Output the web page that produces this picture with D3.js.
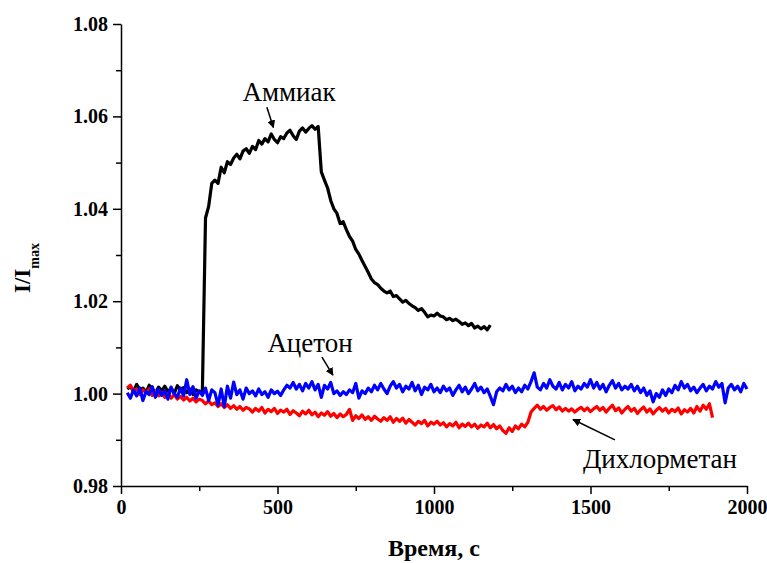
<!DOCTYPE html>
<html>
<head>
<meta charset="utf-8">
<script src="https://cdnjs.cloudflare.com/ajax/libs/d3/7.8.5/d3.min.js"></script>
<style>
  body { margin: 0; background: #fff; }
  svg { display: block; }
  .axis path, .axis line { stroke: #000; stroke-width: 1.5px; }
  .axis text { font-size: 20px; font-weight: bold; fill: #000; }
  .series { fill: none; stroke-width: 3.2px; stroke-linejoin: round; }
  .note { font-size: 27px; fill: #000; }
</style>
</head>
<body>
<div id="chart"></div>
<script>
/* global d3 */

// sampling of the traces (seconds)
var step = 10;
var ammoniaStart = 20, dcmStart = 20, acetoneStart = 20;

// I/Imax, ammonia (black)
var ammonia = [
  1.0010, 1.0015, 1.0005, 1.0020, 1.0008, 1.0012, 1.0003, 1.0018, 1.0010, 1.0002,
  1.0014, 1.0006, 1.0016, 1.0004, 1.0012, 1.0000, 1.0017, 1.0008, 1.0013, 1.0002,
  1.0010, 0.9998, 1.0008, 1.0003, 1.0006, 1.0380, 1.0405, 1.0455, 1.0462, 1.0455,
  1.0490, 1.0478, 1.0502, 1.0496, 1.0510, 1.0518, 1.0508, 1.0525, 1.0530, 1.0520,
  1.0535, 1.0528, 1.0548, 1.0540, 1.0552, 1.0545, 1.0562, 1.0550, 1.0543, 1.0556,
  1.0552, 1.0564, 1.0570, 1.0558, 1.0550, 1.0568, 1.0575, 1.0566, 1.0574, 1.0580,
  1.0572, 1.0578, 1.0480, 1.0462, 1.0445, 1.0418, 1.0400, 1.0390, 1.0368, 1.0372,
  1.0355, 1.0340, 1.0330, 1.0312, 1.0302, 1.0288, 1.0275, 1.0262, 1.0248, 1.0240,
  1.0236, 1.0228, 1.0222, 1.0218, 1.0222, 1.0210, 1.0212, 1.0205, 1.0198, 1.0202,
  1.0195, 1.0190, 1.0186, 1.0180, 1.0184, 1.0176, 1.0166, 1.0170, 1.0168, 1.0174,
  1.0168, 1.0166, 1.0160, 1.0163, 1.0158, 1.0161, 1.0156, 1.0150, 1.0153, 1.0147,
  1.0152, 1.0142, 1.0146, 1.0140, 1.0145, 1.0138, 1.0148
];

// I/Imax, dichloromethane (red)
var dichloromethane = [
  1.0012, 1.0018, 1.0006, 1.0010, 0.9998, 1.0008, 1.0002, 1.0010, 0.9996, 1.0004,
  0.9995, 1.0003, 0.9992, 1.0000, 0.9990, 0.9998, 0.9988, 0.9994, 0.9986, 0.9992,
  0.9984, 0.9990, 0.9982, 0.9988, 0.9985, 0.9978, 0.9984, 0.9976, 0.9980, 0.9972,
  0.9978, 0.9970, 0.9976, 0.9968, 0.9974, 0.9966, 0.9972, 0.9964, 0.9970, 0.9967,
  0.9960, 0.9968, 0.9962, 0.9970, 0.9958, 0.9966, 0.9961, 0.9968, 0.9957, 0.9964,
  0.9960, 0.9966, 0.9955, 0.9963, 0.9958, 0.9952, 0.9962, 0.9956, 0.9964, 0.9954,
  0.9960, 0.9950, 0.9958, 0.9953, 0.9961, 0.9951, 0.9957, 0.9948, 0.9956, 0.9950,
  0.9955, 0.9966, 0.9942, 0.9952, 0.9946, 0.9954, 0.9944, 0.9950, 0.9942, 0.9951,
  0.9945, 0.9940, 0.9948, 0.9942, 0.9950, 0.9938, 0.9946, 0.9940, 0.9947, 0.9936,
  0.9944, 0.9938, 0.9932, 0.9940, 0.9935, 0.9942, 0.9930, 0.9938, 0.9934, 0.9940,
  0.9932, 0.9937, 0.9928, 0.9935, 0.9930, 0.9938, 0.9926, 0.9934, 0.9929, 0.9936,
  0.9928, 0.9934, 0.9925, 0.9932, 0.9928, 0.9936, 0.9926, 0.9933, 0.9924, 0.9930,
  0.9920, 0.9914, 0.9926, 0.9918, 0.9930, 0.9924, 0.9934, 0.9928, 0.9938, 0.9960,
  0.9968, 0.9975, 0.9966, 0.9972, 0.9964, 0.9970, 0.9974, 0.9965, 0.9971, 0.9962,
  0.9968, 0.9962, 0.9967, 0.9960, 0.9966, 0.9970, 0.9963, 0.9969, 0.9961, 0.9967,
  0.9972, 0.9964, 0.9970, 0.9960, 0.9968, 0.9975, 0.9963, 0.9969, 0.9958, 0.9966,
  0.9972, 0.9962, 0.9968, 0.9957, 0.9965, 0.9971, 0.9960, 0.9967, 0.9956, 0.9964,
  0.9970, 0.9962, 0.9968, 0.9958, 0.9966, 0.9961, 0.9969, 0.9956, 0.9965, 0.9960,
  0.9968, 0.9958, 0.9972, 0.9962, 0.9975, 0.9966, 0.9978, 0.9948
];

// I/Imax, acetone (blue)
var acetone = [
  1.0002, 0.9990, 1.0008, 0.9995, 1.0012, 0.9985, 1.0005, 0.9998, 1.0015, 0.9992,
  1.0010, 0.9996, 1.0006, 0.9988, 1.0014, 1.0000, 0.9992, 1.0012, 0.9995, 1.0030,
  0.9998, 1.0015, 0.9990, 1.0006, 0.9996, 1.0012, 0.9985, 1.0008, 1.0002, 0.9975,
  1.0010, 0.9972, 1.0016, 0.9990, 1.0025, 0.9998, 1.0008, 0.9988, 1.0012, 1.0000,
  1.0006, 0.9995, 1.0010, 0.9998, 1.0004, 0.9992, 1.0008, 1.0000, 1.0005, 0.9996,
  1.0008, 1.0018, 1.0012, 1.0024, 1.0010, 1.0020, 1.0006, 1.0022, 1.0012, 1.0026,
  1.0008, 1.0020, 0.9992, 1.0018, 1.0010, 1.0024, 1.0000, 1.0006, 0.9996, 1.0004,
  0.9998, 1.0008, 1.0002, 1.0022, 0.9990, 1.0006, 1.0000, 1.0012, 1.0004, 1.0018,
  1.0008, 1.0022, 1.0010, 1.0000, 1.0016, 1.0026, 1.0012, 1.0020, 1.0004, 1.0016,
  1.0010, 1.0024, 1.0006, 1.0018, 0.9998, 1.0014, 1.0008, 1.0020, 1.0004, 1.0012,
  1.0002, 1.0016, 1.0006, 1.0012, 0.9996, 1.0008, 1.0018, 1.0004, 1.0014, 1.0000,
  1.0010, 1.0022, 1.0006, 1.0014, 1.0002, 1.0010, 0.9994, 0.9976, 1.0004, 1.0012,
  1.0006, 1.0020, 1.0008, 1.0016, 1.0002, 1.0012, 1.0004, 1.0018, 1.0010, 1.0026,
  1.0045, 1.0014, 1.0008, 1.0022, 1.0012, 1.0030, 1.0016, 1.0010, 1.0024, 1.0008,
  1.0020, 1.0012, 1.0026, 1.0006, 1.0016, 1.0010, 1.0022, 1.0014, 1.0030, 1.0012,
  1.0024, 1.0010, 1.0020, 1.0004, 1.0018, 1.0028, 1.0012, 1.0022, 1.0008, 1.0016,
  1.0010, 1.0020, 1.0006, 1.0016, 1.0002, 1.0012, 0.9996, 1.0006, 0.9982, 1.0000,
  0.9992, 1.0008, 0.9996, 1.0010, 1.0002, 1.0018, 1.0008, 1.0026, 1.0012, 1.0020,
  1.0006, 1.0014, 1.0002, 1.0012, 1.0020, 1.0006, 1.0016, 1.0010, 1.0026, 1.0014,
  1.0022, 0.9980, 1.0012, 1.0020, 1.0008, 1.0016, 1.0004, 1.0022, 1.0010
];

var xMajorTicks = [0, 500, 1000, 1500, 2000];
var xMinorTicks = [250, 750, 1250, 1750];
var yMajorTicks = [0.98, 1.00, 1.02, 1.04, 1.06, 1.08];
var yMinorTicks = [0.99, 1.01, 1.03, 1.05, 1.07];

// labels with arrows, anchored in data units: text at [t, v], arrow from -> to
var notes = [
  { text: 'Аммиак', at: [537, 1.0633], from: [466, 1.0620], to: [487, 1.0576] },
  { text: 'Ацетон', at: [604, 1.0090], from: [642, 1.0079], to: [677, 1.0040] },
  { text: 'Дихлорметан', at: [1722, 0.9839], from: [1578, 0.9900], to: [1444, 0.9944] }
];

var serif = 'Liberation Serif';

var margin = { top: 24, right: 20, bottom: 77, left: 121 };
var width = 767 - margin.left - margin.right;
var height = 563 - margin.top - margin.bottom;

var x = d3.scaleLinear().domain([0, 2000]).range([0, width]);
var y = d3.scaleLinear().domain([0.98, 1.08]).range([height, 0]);

var svg = d3.select('#chart')
  .append('svg')
    .attr('width', 767)
    .attr('height', 563)
  .append('g')
    .attr('font-family', serif)
    .attr('transform', 'translate(' + margin.left + ',' + margin.top + ')');

svg.append('defs').append('marker')
    .attr('id', 'head')
    .attr('viewBox', '0 0 10 10')
    .attr('refX', 9)
    .attr('refY', 5)
    .attr('markerWidth', 8)
    .attr('markerHeight', 8)
    .attr('markerUnits', 'userSpaceOnUse')
    .attr('orient', 'auto')
  .append('path')
    .attr('d', 'M0,0L10,5L0,10Z')
    .attr('fill', '#000');

function toPoints(values, start) {
  return values.map(function (v, i) { return { t: start + i * step, v: v }; });
}

var line = d3.line()
  .x(function (d) { return x(d.t); })
  .y(function (d) { return y(d.v); });

[
  { data: toPoints(ammonia, ammoniaStart), color: '#000000' },
  { data: toPoints(dichloromethane, dcmStart), color: '#ff0000' },
  { data: toPoints(acetone, acetoneStart), color: '#0000ff' }
].forEach(function (s) {
  svg.append('path')
    .attr('class', 'series')
    .attr('stroke', s.color)
    .attr('d', line(s.data));
});

// axes: major ticks with labels, minor ticks without
function styleAxis(g) {
  g.attr('font-family', serif).attr('font-size', null);
  g.selectAll('text').attr('font-family', serif);
}

svg.append('g')
  .attr('class', 'axis')
  .attr('transform', 'translate(0,' + height + ')')
  .call(d3.axisBottom(x).tickValues(xMinorTicks).tickSize(5).tickFormat(''))
  .select('.domain').remove();

svg.append('g')
  .attr('class', 'axis')
  .attr('transform', 'translate(0,' + height + ')')
  .call(d3.axisBottom(x).tickValues(xMajorTicks).tickSize(8).tickSizeOuter(0).tickPadding(6).tickFormat(d3.format('d')))
  .call(styleAxis);

svg.append('g')
  .attr('class', 'axis')
  .call(d3.axisLeft(y).tickValues(yMinorTicks).tickSize(5).tickFormat(''))
  .select('.domain').remove();

svg.append('g')
  .attr('class', 'axis')
  .call(d3.axisLeft(y).tickValues(yMajorTicks).tickSize(8).tickSizeOuter(0).tickPadding(5).tickFormat(d3.format('.2f')))
  .call(styleAxis);

// axis titles
svg.append('text')
  .attr('x', width / 2)
  .attr('y', height + 70)
  .attr('text-anchor', 'middle')
  .attr('font-family', serif)
  .attr('font-size', 24)
  .attr('font-weight', 'bold')
  .text('Время, с');

var yTitle = svg.append('text')
  .attr('transform', 'translate(' + (30 - margin.left) + ',' + (268 - margin.top) + ') rotate(-90)')
  .attr('text-anchor', 'middle')
  .attr('font-family', serif)
  .attr('font-weight', 'bold');
yTitle.append('tspan').attr('font-size', 23).text('I/I');
yTitle.append('tspan').attr('font-size', 14).attr('dy', 9).text('max');

// annotations
notes.forEach(function (n) {
  svg.append('text')
    .attr('class', 'note')
    .attr('font-family', serif)
    .attr('x', x(n.at[0]))
    .attr('y', y(n.at[1]))
    .attr('text-anchor', 'middle')
    .text(n.text);
  svg.append('line')
    .attr('x1', x(n.from[0]))
    .attr('y1', y(n.from[1]))
    .attr('x2', x(n.to[0]))
    .attr('y2', y(n.to[1]))
    .attr('stroke', '#000')
    .attr('stroke-width', 1.5)
    .attr('marker-end', 'url(#head)');
});
</script>
</body>
</html>
